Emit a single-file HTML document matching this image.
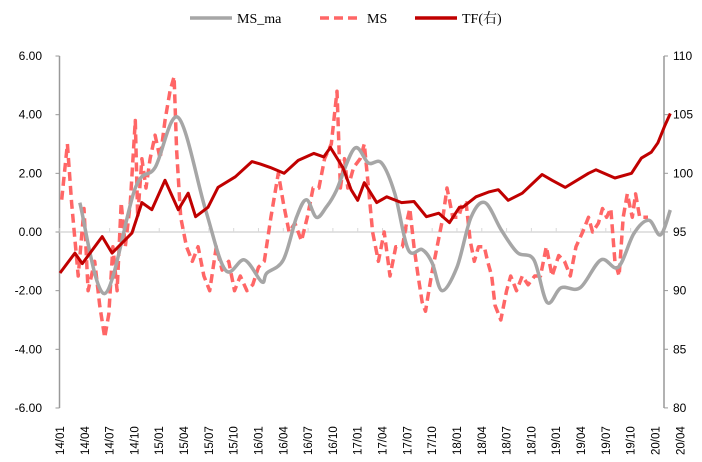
<!DOCTYPE html>
<html><head><meta charset="utf-8"><style>
body{margin:0;background:#fff;}
svg{display:block;font-family:"Liberation Sans","Noto Sans CJK SC",sans-serif;}
</style></head><body>
<svg id="chart" width="702" height="462" viewBox="0 0 702 462"></svg>
<script>
// months since 2014-01
const maT=[2.4,5.4,9.1,11.5,14.3,17.6,20.0,22.3,24.4,25.0,27.0,28.6,29.8,31.0,32.2,33.4,35.6,37.3,38.9,40.5,42.1,43.8,45.0,46.2,48.0,49.7,51.4,53.4,55.3,57.3,58.9,60.6,62.9,65.4,67.5,69.4,71.2,72.6,73.8];
const maV=[1.0,-2.1,1.5,2.2,3.9,0.75,-1.3,-0.95,-1.7,-1.4,-0.95,0.5,1.1,0.5,0.85,1.4,2.85,2.35,2.35,1.3,-0.6,-0.6,-1.05,-2.0,-1.2,0.5,1.0,0.05,-0.7,-0.95,-2.4,-1.9,-1.9,-0.95,-1.2,-0.05,0.4,-0.1,0.75];
const tfT=[0,1.8,2.7,5.1,6.3,8.7,9.9,11.1,12.7,14.3,15.5,16.4,17.9,19.1,21.2,23.2,24.2,25.4,27.1,28.8,30.7,31.9,32.7,34.2,35.2,36.0,36.8,38.3,39.5,41.3,42.8,44.3,45.8,47.1,48.3,48.7,50.3,51.8,53.0,54.2,55.9,58.3,59.5,61.1,63.9,64.8,67.1,69.1,70.3,71.5,72.3,73.1,73.8];
const tfV=[91.5,93.2,92.3,94.6,93.2,94.9,97.5,96.9,99.4,96.9,98.3,96.3,97.1,98.8,99.7,101.0,100.8,100.5,100.0,101.1,101.7,101.4,102.2,100.5,98.6,97.7,99.2,97.5,98.0,97.5,97.6,96.3,96.6,95.8,97.1,97.1,98.0,98.4,98.6,97.7,98.3,99.9,99.4,98.8,100.0,100.3,99.6,100.0,101.3,101.8,102.6,104.0,105.1];
const msT=[0.2,0.9,1.4,2.2,2.9,3.4,4.2,4.8,5.4,5.9,6.4,6.9,7.4,7.9,8.5,9.1,9.4,9.9,10.4,10.9,11.5,12.1,12.7,13.3,13.8,14.1,14.6,15.3,16.0,16.7,17.4,18.1,18.9,19.6,20.4,21.1,21.8,22.6,23.3,24.0,24.7,25.5,26.4,27.0,27.7,28.4,29.2,29.9,30.6,31.3,32.0,32.8,33.5,33.9,34.4,34.8,35.5,36.3,36.8,37.3,37.8,38.5,39.2,39.9,40.6,41.4,41.9,42.3,42.8,43.3,43.8,44.2,44.9,45.6,46.3,46.8,47.5,48.2,48.7,49.1,49.6,50.1,50.6,51.3,51.7,52.2,52.6,53.3,54.0,54.5,55.2,55.9,56.6,57.4,58.1,58.8,59.5,60.3,61.0,61.7,62.4,63.2,63.9,64.4,65.1,65.6,66.1,66.6,67.1,67.6,68.1,68.6,69.2,69.6,70.1,70.6,71.1,71.7,72.1,72.6,72.9];
const msV=[1.1,3.0,1.0,-1.5,0.8,-2.0,-1.0,-2.5,-3.6,-2.8,-0.5,-2.0,1.0,-0.5,1.0,3.8,0.5,2.5,1.5,2.5,3.3,2.5,3.8,4.8,5.3,2.8,0.5,-0.5,-1.0,-0.5,-1.5,-2.0,-0.5,-1.3,-1.0,-2.0,-1.5,-2.0,-1.8,-1.2,-1.0,0.5,2.0,1.0,0.0,0.3,-0.3,0.5,1.5,1.5,2.5,3.0,4.8,1.5,2.5,1.5,2.2,2.5,3.0,1.5,0.0,-1.0,0.0,-1.5,-0.5,-0.5,0.3,0.8,-0.5,-1.5,-2.4,-2.7,-1.5,-0.5,0.5,1.5,0.5,0.5,1.0,1.0,-0.3,-1.0,-0.5,-0.5,-1.0,-1.5,-2.5,-3.0,-2.0,-1.5,-2.0,-1.5,-1.8,-1.5,-1.5,-0.5,-1.5,-0.8,-1.0,-1.5,-0.5,0.0,0.5,0.0,0.3,0.8,0.5,0.8,-1.0,-1.5,0.5,1.3,0.5,1.3,0.5,0.5,0.5];
const leftTicks=["6.00","4.00","2.00","0.00","-2.00","-4.00","-6.00"];
const leftVals=[6,4,2,0,-2,-4,-6];
const rightVals=[110,105,100,95,90,85,80];
const xLabels=["14/01","14/04","14/07","14/10","15/01","15/04","15/07","15/10","16/01","16/04","16/07","16/10","17/01","17/04","17/07","17/10","18/01","18/04","18/07","18/10","19/01","19/04","19/07","19/10","20/01","20/04"];

const NS="http://www.w3.org/2000/svg";
const svg=document.getElementById('chart');
const X0=60,PXM=8.27,L=59.5,R=664;
const xs=t=>X0+t*PXM;
const yl=v=>232-v*29.33;
const yr=v=>56+(110-v)*11.73;
function mk(tag,attrs,parent){const e=document.createElementNS(NS,tag);for(const k in attrs)e.setAttribute(k,attrs[k]);(parent||svg).appendChild(e);return e;}

let a=mk('line',{x1:L,y1:56,x2:L,y2:408,stroke:'#999','stroke-width':1.5});


a=mk('line',{x1:R,y1:56,x2:R,y2:408,stroke:'#999','stroke-width':1.5});


a=mk('line',{x1:L,y1:yl(0),x2:R,y2:yl(0),stroke:'#d9d9d9','stroke-width':1.5});


leftVals.forEach((v,i)=>{
  mk('line',{x1:L-4,y1:yl(v),x2:L,y2:yl(v),stroke:'#999'});
  const t=mk('text',{x:42,y:yl(v)+4,'text-anchor':'end','font-size':12,fill:'#000'});
  t.textContent=leftTicks[i];
  
  
});
rightVals.forEach(v=>{
  mk('line',{x1:R,y1:yr(v),x2:R+4,y2:yr(v),stroke:'#999'});
  const t=mk('text',{x:673,y:yr(v)+4,'font-size':12,fill:'#000'});
  t.textContent=String(v);
  
  
});
xLabels.forEach((s,i)=>{
  const x=xs(i*3);
  mk('line',{x1:x,y1:yl(0)-4,x2:x,y2:yl(0),stroke:'#d9d9d9'});
  const t=mk('text',{transform:`translate(${x+4},455) rotate(-90)`,'font-size':11.5,fill:'#000'});
  t.textContent=s;
  
  
});
function pathOf(T,V,yf){return T.map((t,i)=>(i?'L':'M')+xs(t).toFixed(1)+','+yf(V[i]).toFixed(1)).join('');}
function smoothOf(T,V,yf){
  const P=T.map((t,i)=>[xs(t),yf(V[i])]);
  let d='M'+P[0][0].toFixed(1)+','+P[0][1].toFixed(1);
  for(let i=0;i<P.length-1;i++){
    const p0=P[Math.max(0,i-1)],p1=P[i],p2=P[i+1],p3=P[Math.min(P.length-1,i+2)];
    const c1=[p1[0]+(p2[0]-p0[0])/6,p1[1]+(p2[1]-p0[1])/6];
    const c2=[p2[0]-(p3[0]-p1[0])/6,p2[1]-(p3[1]-p1[1])/6];
    d+='C'+c1.map(n=>n.toFixed(1)).join(',')+' '+c2.map(n=>n.toFixed(1)).join(',')+' '+p2.map(n=>n.toFixed(1)).join(',');
  }
  return d;
}
let p=mk('path',{d:pathOf(msT,msV,yl),fill:'none',stroke:'#ff6666','stroke-width':3.5,'stroke-dasharray':'9,5','stroke-linejoin':'round'});


p=mk('path',{d:smoothOf(maT,maV,yl),fill:'none',stroke:'#a6a6a6','stroke-width':3.5,'stroke-linejoin':'round'});


p=mk('path',{d:pathOf(tfT,tfV,yr),fill:'none',stroke:'#c00000','stroke-width':3,'stroke-linejoin':'round'});



const leg=[['MS_ma','#a6a6a6',null,190],['MS','#ff6666','9,5',320],['TF(右)','#c00000',null,415]];
leg.forEach(([n,c,d,x])=>{
  const g=mk('g',{});
  
  
  const l=mk('line',{x1:x,y1:18,x2:x+42,y2:18,stroke:c,'stroke-width':3.5},g);
  if(d)l.setAttribute('stroke-dasharray',d);
  const t=mk('text',{x:x+47,y:23,'font-size':14,fill:'#000','font-family':'"Liberation Serif","Noto Serif CJK SC",serif'},g);
  t.textContent=n;
});
</script>
</body></html>
